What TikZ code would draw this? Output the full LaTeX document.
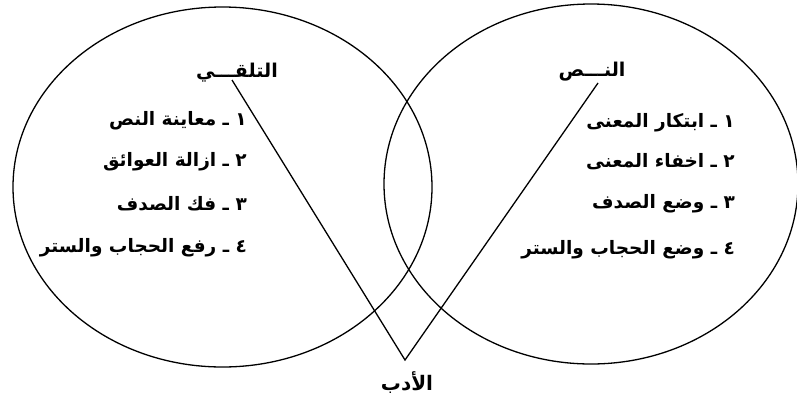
\documentclass[tikz,border=0pt]{standalone}
\usepackage{fontspec}
\newfontfamily\arabicfont[Script=Arabic]{DejaVu Sans}
\TeXXeTstate=1
\tikzset{
  ring/.style={draw=black, line width=1.3pt},
  link/.style={draw=black, line width=1.3pt},
  item/.style={anchor=east, inner sep=0pt, font=\arabicfont\bfseries\fontsize{18.5}{21}\selectfont},
  head/.style={inner sep=0pt, font=\arabicfont\bfseries\fontsize{19}{22}\selectfont}
}
\begin{document}
\begin{tikzpicture}[x=1pt,y=-1pt]
\useasboundingbox[fill=white] (0,0) rectangle (797,400);
\draw[ring] (222.5,187) ellipse [x radius=209.5, y radius=180];
\draw[ring] (591,184) ellipse [x radius=207, y radius=180];
\node[head] (talaqqi) at (237,73) {\beginR التلقـــي\endR};
\node[head] (nass) at (592,72) {\beginR النـــص\endR};
\node[item] (l1) at (247,121) {\beginR ١ ـ معاينة النص\endR};
\node[item] (l2) at (247,162) {\beginR ٢ ـ ازالة العوائق\endR};
\node[item] (l3) at (247,204) {\beginR ٣ ـ فك الصدف\endR};
\node[item] (l4) at (247,248) {\beginR ٤ ـ رفع الحجاب والستر\endR};
\node[item] (r1) at (735,123) {\beginR ١ ـ ابتكار المعنى\endR};
\node[item] (r2) at (735,162) {\beginR ٢ ـ اخفاء المعنى\endR};
\node[item] (r3) at (735,204) {\beginR ٣ ـ وضع الصدف\endR};
\node[item] (r4) at (735,250) {\beginR ٤ ـ وضع الحجاب والستر\endR};
\node[head, font=\arabicfont\bfseries\fontsize{20}{22}\selectfont] (adab) at (407,383) {\beginR الأدب\endR};
\coordinate (apex) at (405,360);
\coordinate (lstart) at (232,80);
\coordinate (rstart) at (598,83);
\draw[link] (lstart) -- (apex) -- (rstart);
\end{tikzpicture}
\end{document}
